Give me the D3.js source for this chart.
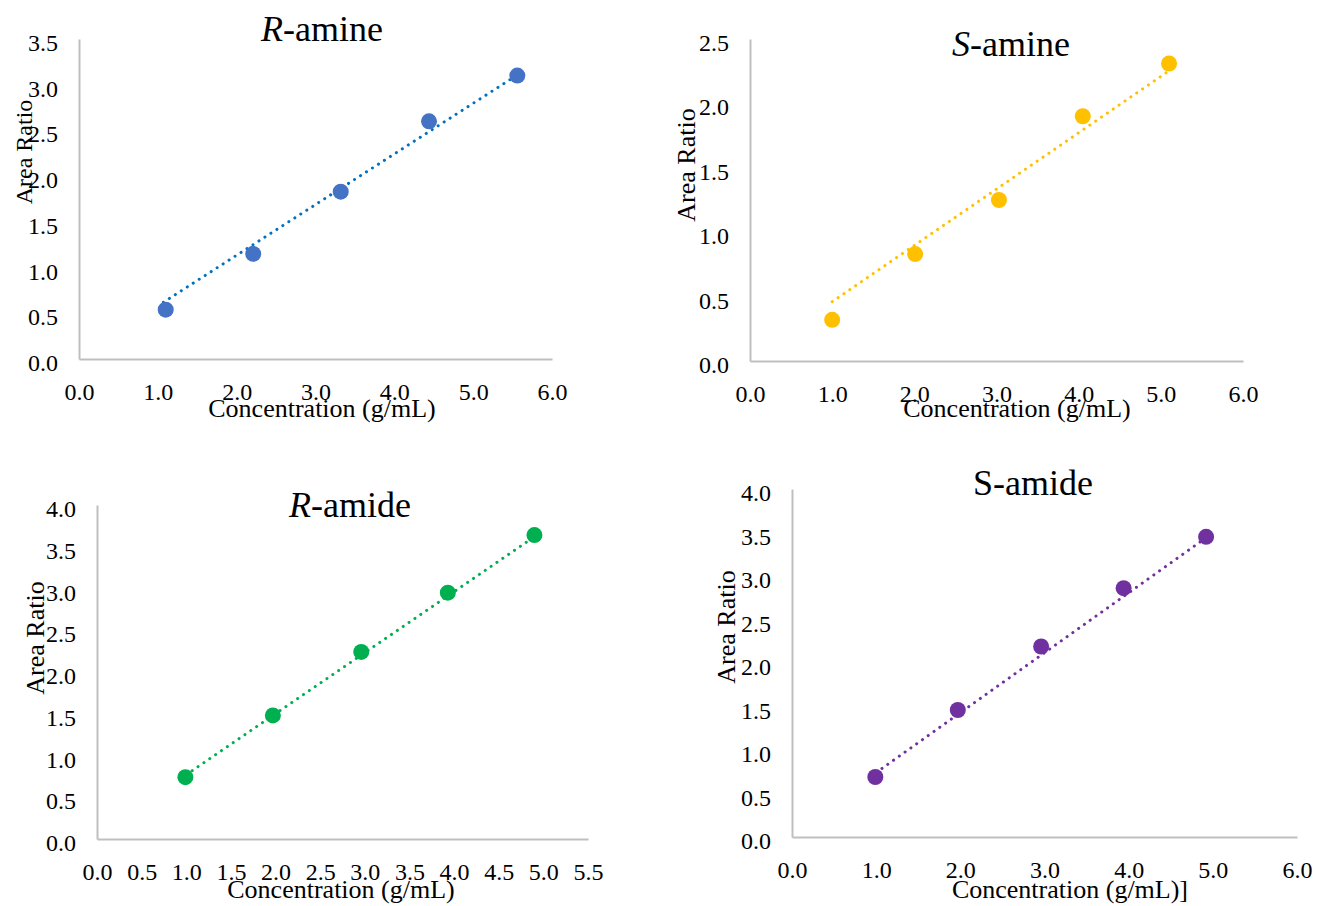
<!DOCTYPE html>
<html>
<head>
<meta charset="utf-8">
<script src="https://cdn.jsdelivr.net/npm/d3@7"></script>
<style>
  body { margin: 0; background: #fff; }
  text { font-family: "Liberation Serif", "Times New Roman", serif; fill: #000; }
</style>
</head>
<body>
<div id="chart"></div>
<script>
// data
const rAmineX = [1.10, 2.21, 3.32, 4.44, 5.56];
const rAmineY = [0.54, 1.15, 1.83, 2.60, 3.10];
const rAmineTrend = [[1.07, 0.62], [5.53, 3.09]];

const sAmineX = [1.00, 2.01, 3.03, 4.05, 5.10];
const sAmineY = [0.32, 0.83, 1.25, 1.90, 2.31];
const sAmineTrend = [[1.00, 0.46], [5.07, 2.24]];

const rAmideX = [0.99, 1.97, 2.96, 3.93, 4.90];
const rAmideY = [0.74, 1.48, 2.24, 2.95, 3.64];
const rAmideTrend = [[1.00, 0.77], [4.90, 3.62]];

const sAmideX = [0.99, 1.97, 2.96, 3.94, 4.92];
const sAmideY = [0.69, 1.46, 2.19, 2.86, 3.45];
const sAmideTrend = [[1.00, 0.74], [4.92, 3.44]];

const ticksHalf = [0, 0.5, 1, 1.5, 2, 2.5, 3, 3.5, 4, 4.5, 5, 5.5];
const ticksOne = [0, 1, 2, 3, 4, 5, 6];

// panel layouts
const panels = [
  { italic: "R", rest: "-amine", titleX: 322, titleY: 41,
    xs: rAmineX, ys: rAmineY, trend: rAmineTrend,
    xMax: 6, yMax: 3.5, xTicks: ticksOne, yTicks: ticksHalf.slice(0, 8),
    left: 79, right: 552, top: 39, bottom: 359,
    pointColor: "#4472C4", lineColor: "#0070C0",
    xLabel: "Concentration (g/mL)", xLabelX: 322, xLabelY: 417,
    yLabelX: 24, yLabelY: 152, yLabelSize: 24 },
  { italic: "S", rest: "-amine", titleX: 1011, titleY: 56,
    xs: sAmineX, ys: sAmineY, trend: sAmineTrend,
    xMax: 6, yMax: 2.5, xTicks: ticksOne, yTicks: ticksHalf.slice(0, 6),
    left: 750, right: 1243, top: 39, bottom: 361,
    pointColor: "#FFC000", lineColor: "#FFC000",
    xLabel: "Concentration (g/mL)", xLabelX: 1017, xLabelY: 417,
    yLabelX: 687, yLabelY: 165, yLabelSize: 26 },
  { italic: "R", rest: "-amide", titleX: 350, titleY: 517,
    xs: rAmideX, ys: rAmideY, trend: rAmideTrend,
    xMax: 5.5, yMax: 4, xTicks: ticksHalf, yTicks: ticksHalf.slice(0, 9),
    left: 97, right: 588, top: 505, bottom: 839,
    pointColor: "#00B050", lineColor: "#00B050",
    xLabel: "Concentration (g/mL)", xLabelX: 341, xLabelY: 898,
    yLabelX: 36, yLabelY: 638, yLabelSize: 26 },
  { italic: "", rest: "S-amide", titleX: 1033, titleY: 495,
    xs: sAmideX, ys: sAmideY, trend: sAmideTrend,
    xMax: 6, yMax: 4, xTicks: ticksOne, yTicks: ticksHalf.slice(0, 9),
    left: 792, right: 1297, top: 489, bottom: 837,
    pointColor: "#7030A0", lineColor: "#7030A0",
    xLabel: "Concentration (g/mL)]", xLabelX: 1070, xLabelY: 898,
    yLabelX: 727, yLabelY: 627, yLabelSize: 26 }
];

const svg = d3.select("#chart")
  .append("svg")
  .attr("width", 1317)
  .attr("height", 906);

panels.forEach(p => {
  const xScale = d3.scaleLinear().domain([0, p.xMax]).range([p.left, p.right]);
  const yScale = d3.scaleLinear().domain([0, p.yMax]).range([p.bottom, p.top]);

  // axes
  const xAxis = d3.axisBottom(xScale)
    .tickValues(p.xTicks)
    .tickSize(0)
    .tickPadding(24)
    .tickFormat(d3.format(".1f"));

  const yAxis = d3.axisLeft(yScale)
    .tickValues(p.yTicks)
    .tickSize(0)
    .tickPadding(21)
    .tickFormat(d3.format(".1f"));

  const gx = svg.append("g")
    .attr("transform", `translate(0, ${p.bottom})`)
    .call(xAxis);
  const gy = svg.append("g")
    .attr("transform", `translate(${p.left}, 0)`)
    .call(yAxis);

  [gx, gy].forEach(g => {
    g.select(".domain").attr("stroke", "#BFBFBF").attr("stroke-width", 2);
    g.selectAll("text")
      .attr("font-family", "Liberation Serif, Times New Roman, serif")
      .attr("font-size", 24)
      .attr("fill", "#000");
  });
  gy.selectAll("text").attr("dy", "0.48em");

  // trendline
  const line = d3.line()
    .x(d => xScale(d[0]))
    .y(d => yScale(d[1]));

  svg.append("path")
    .datum(p.trend)
    .attr("d", line)
    .attr("fill", "none")
    .attr("stroke", p.lineColor)
    .attr("stroke-width", 3)
    .attr("stroke-linecap", "round")
    .attr("stroke-dasharray", "0.1 7");

  // points
  svg.selectAll(null)
    .data(d3.zip(p.xs, p.ys))
    .enter().append("circle")
    .attr("cx", d => xScale(d[0]))
    .attr("cy", d => yScale(d[1]))
    .attr("r", 8)
    .attr("fill", p.pointColor);

  // title
  const title = svg.append("text")
    .attr("x", p.titleX)
    .attr("y", p.titleY)
    .attr("text-anchor", "middle")
    .attr("font-size", 36);
  if (p.italic) title.append("tspan").attr("font-style", "italic").text(p.italic);
  title.append("tspan").text(p.rest);

  // axis titles
  svg.append("text")
    .attr("x", p.xLabelX)
    .attr("y", p.xLabelY)
    .attr("text-anchor", "middle")
    .attr("font-size", 26)
    .text(p.xLabel);

  svg.append("text")
    .attr("transform", `translate(${p.yLabelX + 8}, ${p.yLabelY}) rotate(-90)`)
    .attr("text-anchor", "middle")
    .attr("font-size", p.yLabelSize)
    .text("Area Ratio");
});
</script>
</body>
</html>
